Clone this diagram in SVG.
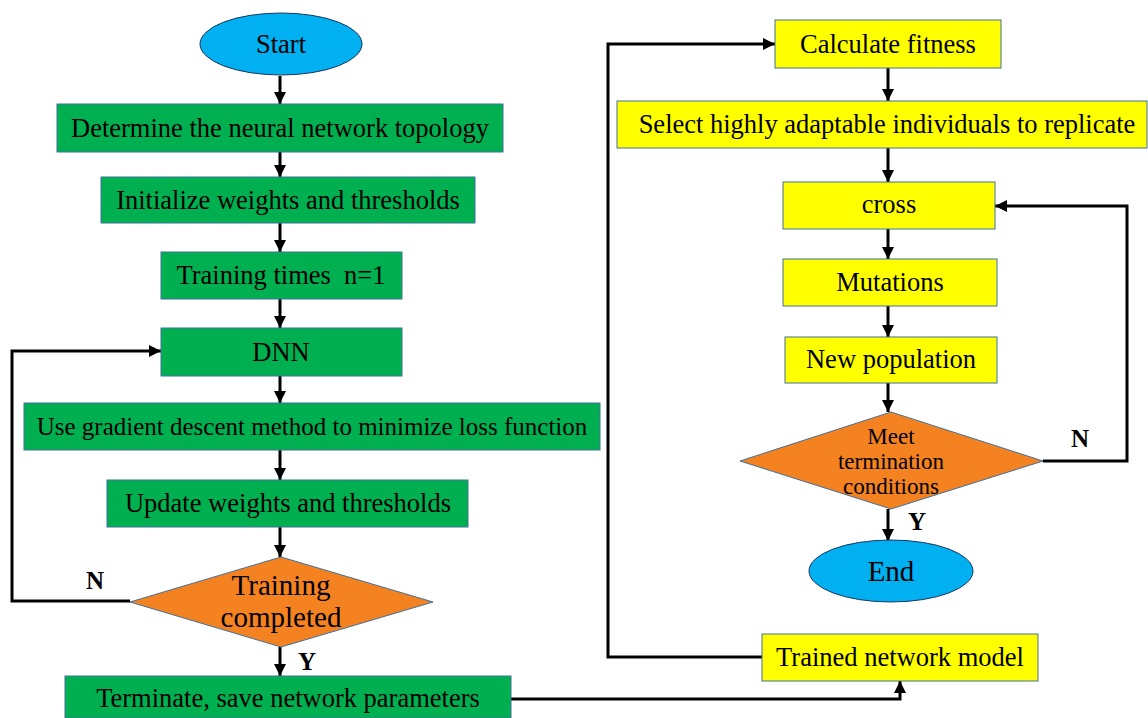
<svg xmlns="http://www.w3.org/2000/svg" width="1148" height="718" viewBox="0 0 1148 718">
<defs>
<marker id="ah" viewBox="0 0 10 10" refX="10" refY="5" markerWidth="4" markerHeight="4" orient="auto" markerUnits="strokeWidth">
<path d="M0,0 L10,5 L0,10 Z" fill="#000"/>
</marker>
<style>
.g{fill:#00B050;stroke:#41719C;stroke-width:1}
.y{fill:#FFFF00;stroke:#41719C;stroke-width:1}
.o{fill:#F58220;stroke:#41719C;stroke-width:1}
.b{fill:#00B0F0;stroke:#1F3864;stroke-width:1}
text{font-family:"Liberation Serif","Times New Roman",serif;font-size:26.5px;fill:#000;text-anchor:middle;white-space:pre}
.lbl{font-weight:bold;font-size:25px}
.c{fill:none;stroke:#000;stroke-width:3;marker-end:url(#ah)}
.l{fill:none;stroke:#000;stroke-width:3}
</style>
</defs>
<rect width="1148" height="718" fill="#fff"/>
<g id="connectors">
<path class="c" d="M280,76 V104"/>
<path class="c" d="M280,152 V177"/>
<path class="c" d="M280,223 V252"/>
<path class="c" d="M280,299 V328"/>
<path class="c" d="M280,376 V403"/>
<path class="c" d="M280,450 V480"/>
<path class="c" d="M280,527 V557"/>
<path class="c" d="M280,647 V676"/>
<path class="c" d="M130,601 H12 V351 H161"/>
<path class="c" d="M511,699 H900 V681"/>
<path class="c" d="M762,657 H608 V44 H775"/>
<path class="c" d="M888,68 V101"/>
<path class="c" d="M888,148 V182"/>
<path class="c" d="M888,229 V259"/>
<path class="c" d="M888,306 V337"/>
<path class="c" d="M888,383 V412"/>
<path class="c" d="M888,509 V541"/>
<path class="c" d="M1043,461 H1127 V206 H995"/>
<text class="lbl" x="95" y="589">N</text>
<text class="lbl" x="307" y="670">Y</text>
<text class="lbl" x="1080" y="447">N</text>
<text class="lbl" x="917" y="530">Y</text>
</g>
<g id="start"><ellipse class="b" cx="281" cy="44" rx="81" ry="31"/><text x="281" y="53">Start</text></g>
<g id="topology"><rect class="g" x="57" y="104" width="446" height="48"/><text x="280" y="137">Determine the neural network topology</text></g>
<g id="init"><rect class="g" x="101" y="177" width="374" height="46"/><text x="288" y="209">Initialize weights and thresholds</text></g>
<g id="times"><rect class="g" x="161" y="252" width="241" height="47"/><text x="281" y="284">Training times  n=1</text></g>
<g id="dnn"><rect class="g" x="161" y="328" width="241" height="48"/><text x="281" y="361">DNN</text></g>
<g id="gradient"><rect class="g" x="24" y="403" width="576" height="47"/><text x="312" y="435" style="font-size:25px">Use gradient descent method to minimize loss function</text></g>
<g id="update"><rect class="g" x="107" y="480" width="361" height="47"/><text x="288" y="512">Update weights and thresholds</text></g>
<g id="trainingDone"><polygon class="o" points="281,557 433,602 281,647 130,602"/><text x="281" y="595" style="font-size:29px">Training</text><text x="281" y="627" style="font-size:29px">completed</text></g>
<g id="terminate"><rect class="g" x="65" y="676" width="446" height="42"/><text x="288" y="707">Terminate, save network parameters</text></g>
<g id="trained"><rect class="y" x="762" y="634" width="276" height="47"/><text x="900" y="666">Trained network model</text></g>
<g id="fitness"><rect class="y" x="775" y="20" width="226" height="48"/><text x="888" y="53">Calculate fitness</text></g>
<g id="select"><rect class="y" x="617" y="101" width="530" height="47"/><text x="887" y="133">Select highly adaptable individuals to replicate</text></g>
<g id="cross"><rect class="y" x="783" y="182" width="212" height="47"/><text x="889" y="213">cross</text></g>
<g id="mutations"><rect class="y" x="783" y="259" width="214" height="47"/><text x="890" y="291">Mutations</text></g>
<g id="newpop"><rect class="y" x="785" y="337" width="212" height="46"/><text x="891" y="368">New population</text></g>
<g id="meet"><polygon class="o" points="891,412 1043,461 891,509 740,461" /><text x="891" y="444" style="font-size:23px">Meet</text><text x="891" y="469" style="font-size:23px">termination</text><text x="891" y="494" style="font-size:23px">conditions</text></g>
<g id="end"><ellipse class="b" cx="891" cy="571" rx="82" ry="31"/><text x="891" y="581" style="font-size:29px">End</text></g>
</svg>
